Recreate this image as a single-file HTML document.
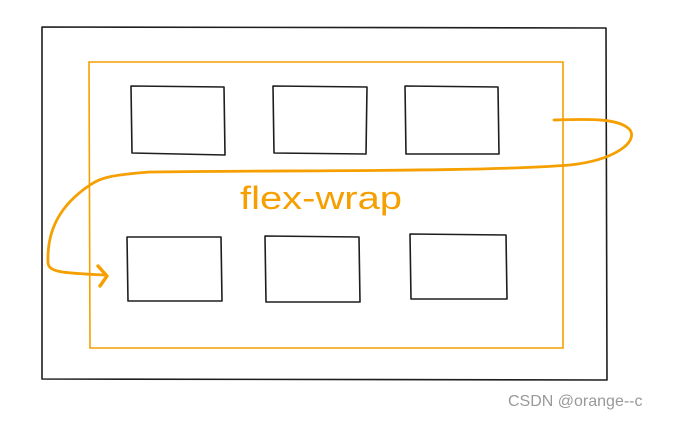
<!DOCTYPE html>
<html><head><meta charset="utf-8"><style>
html,body{margin:0;padding:0;background:#fff;}
svg{display:block;}
</style></head><body>
<svg width="680" height="421" viewBox="0 0 680 421" xmlns="http://www.w3.org/2000/svg">
<rect width="680" height="421" fill="#fff"/>
<g fill="none" stroke="#1e1e1e" stroke-width="1.6" stroke-linejoin="round">
<path d="M42 27 L606 28 L607 380 L42 379 Z"/>
<path d="M131 86 L224 87 L225 155 L132 153 Z"/>
<path d="M273 86 L367 87 L366 154 L274 153 Z"/>
<path d="M405 86 L498 87 L499 154 L406 154 Z"/>
<path d="M127 237 L221 237 L222 301 L128 301 Z"/>
<path d="M265 236 L359 237 L360 302 L266 302 Z"/>
<path d="M410 234 L506 235 L507 299 L411 299 Z"/>
</g>
<g fill="none" stroke="#f59f00" stroke-width="1.6">
<path d="M89 62 L563 62 L563 348 L90 348 Z"/>
</g>
<g fill="none" stroke="#f59f00" stroke-width="2.8" stroke-linecap="round" stroke-linejoin="round">
<path d="M554 120 C590 119 620 118 630 130 C638 142 615 160 570 165 C480 172 300 170 150 172 C110 175 100 178 90 185 C60 205 47 230 48 262 C48 272 60 273 105 275"/>
<path d="M98 266 L107 276 L100 286" stroke-width="3.4"/>
</g>
<text x="240" y="209" font-family="'Liberation Sans', sans-serif" font-size="32" fill="#f59f00" textLength="162" lengthAdjust="spacingAndGlyphs">flex-wrap</text>
<text x="508" y="406" font-family="'Liberation Sans', sans-serif" font-size="16" fill="#999">CSDN @orange--c</text>
</svg>
</body></html>
